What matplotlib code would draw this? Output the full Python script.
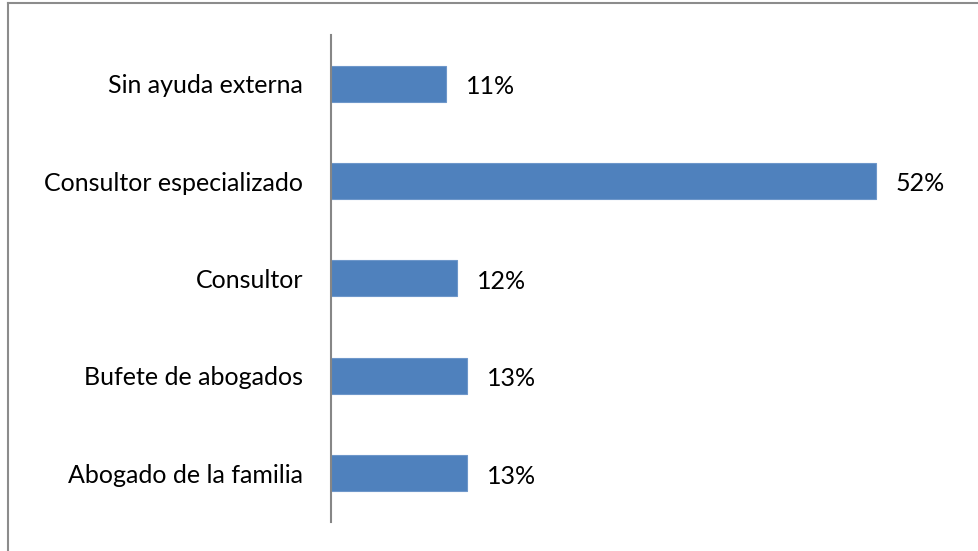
import matplotlib.pyplot as plt
from matplotlib.lines import Line2D

categorias = ["Sin ayuda externa", "Consultor especializado", "Consultor",
              "Bufete de abogados", "Abogado de la familia"]
valores = [11, 52, 12, 13, 13]
etiquetas = ["11%", "52%", "12%", "13%", "13%"]

plt.rcParams['font.family'] = ['Lato', 'DejaVu Sans']

fig = plt.figure(figsize=(9.79, 5.51), dpi=100)
ax = fig.add_axes([0.338, 0.0526, 0.642, 0.884])

pos = list(range(len(categorias)))
ax.barh(pos, valores, height=0.37, color='#4F81BD', edgecolor='#6E97CA', linewidth=0.8)

for p, v, t in zip(pos, valores, etiquetas):
    ax.text(v + 1.9, p + 0.03, t, va='center', ha='left', fontsize=18, color='black')

ax.set_xlim(0, 60)
ax.set_ylim(len(categorias) - 0.5, -0.5)
ax.set_yticks(pos)
ax.set_yticklabels(categorias, fontsize=18)
for lbl in ax.get_yticklabels():
    lbl.set_y(lbl.get_position()[1])
ax.set_xticks([])
ax.tick_params(axis='y', length=0, pad=20)

for s in ['top', 'right', 'bottom']:
    ax.spines[s].set_visible(False)
ax.spines['left'].set_color('#868686')
ax.spines['left'].set_linewidth(1.5)

# borde del gráfico (solo superior e izquierdo visibles)
fig.add_artist(Line2D([8 / 979, 1], [1 - 3 / 551, 1 - 3 / 551], color='#8C8C8C', linewidth=1.5,
                      transform=fig.transFigure))
fig.add_artist(Line2D([8 / 979, 8 / 979], [0, 1 - 3 / 551], color='#8C8C8C', linewidth=1.5,
                      transform=fig.transFigure))

fig.savefig('out.png', dpi=100)
